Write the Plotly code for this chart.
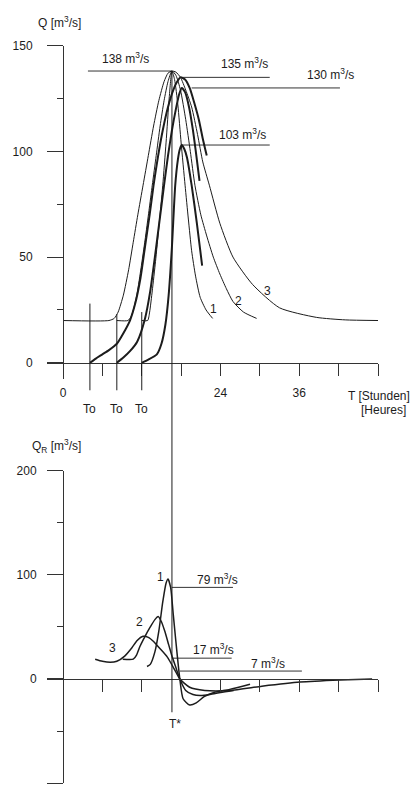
import plotly.graph_objects as go

# ---------------- data (hours, m3/s) ----------------
# inflow hydrographs (thin), base flow 20
h_in1 = [12.0, 12.9, 13.2, 13.6, 14.1, 14.6, 15.2, 15.7, 16.2, 16.6, 17.0, 17.5, 18.0, 18.6, 19.1, 19.6, 20.2, 20.9, 21.8, 22.8]
q_in1 = [20, 20, 24, 34, 48, 64, 84, 104, 126, 138, 134, 122, 104, 84, 68, 53, 41, 31, 25, 21]
h_in2 = [8.2, 9.9, 10.4, 10.8, 11.3, 11.9, 12.5, 13.1, 13.6, 14.2, 14.8, 15.4, 16.0, 16.6, 17.2, 17.9, 18.7, 19.4, 20.1, 21.0, 21.9, 22.9, 23.9, 24.9, 25.9, 27.5, 29.5]
q_in2 = [20, 20, 22, 26, 33, 45, 58, 72, 84, 98, 112, 124, 133, 138, 136, 129, 115, 100, 84, 70, 60, 50, 42, 35, 29, 24, 21]
h_in3 = [0, 7.0, 7.8, 8.4, 9.2, 10.0, 10.7, 11.4, 12.2, 13.0, 13.8, 14.6, 15.4, 16.0, 16.6, 17.2, 17.9, 18.7, 19.6, 20.5, 21.3, 22.3, 23.9, 25.9, 28.9, 33.0, 38.6, 43.0, 48.0]
q_in3 = [20, 20, 21, 24, 32, 44, 57, 70, 84, 98, 112, 124, 133, 137, 138, 137.5, 135, 129, 121, 108, 95, 84, 66, 50, 37, 26, 21.5, 20.3, 20]

# hydrographs starting at To (thick)
h_a = [4.1, 5.0, 6.0, 7.0, 8.2, 9.2, 10.2, 11.0, 11.8, 12.5, 13.2, 13.8, 14.5, 15.2, 16.0, 16.8, 17.4, 17.9, 18.6, 19.3, 20.0, 20.7, 21.3, 21.9]
q_a = [0, 2, 4, 6, 9, 14, 20, 28, 40, 55, 70, 84, 98, 110, 121, 129, 133, 135, 134, 130, 123, 115, 106, 98]
h_b = [8.2, 9.2, 10.2, 11.3, 12.5, 13.3, 14.0, 14.7, 15.4, 16.0, 16.6, 17.2, 17.7, 18.1, 18.6, 19.2, 19.8, 20.4, 20.8]
q_b = [0, 2.5, 5.5, 10, 21, 34, 50, 67, 84, 98, 110, 120, 127, 130, 128, 121, 110, 96, 86]
h_c = [12.0, 13.0, 14.3, 15.0, 15.6, 16.1, 16.6, 17.1, 17.5, 17.8, 18.1, 18.5, 18.9, 19.6, 20.4, 21.2]
q_c = [0, 1.5, 4, 9, 18, 32, 55, 84, 96, 101, 103, 101, 97, 84, 66, 46]

# peak marker lines (value, start h, end h, label)
peak_vals = [138, 135, 130, 103]
peak_h0 = [3.8, 18.1, 19.6, 18.1]
peak_h1 = [16.6, 31.5, 42.2, 31.5]
peak_lab_h = [9.45, 27.7, 40.7, 27.4]
peak_lab_q = [144, 141.6, 136.4, 108.3]

# start times To and lines
to_times = [4.1, 8.2, 12.0]
to_tops = [28, 23, 24]
t_star = 16.6

# differences Q_R (bottom chart)
h_r1 = [12.8, 13.3, 14.0, 14.6, 15.2, 15.7, 16.0, 16.4, 16.8, 17.2, 17.8, 18.3, 19.3, 20.3, 21.5, 23.0, 25.4, 28.5]
q_r1 = [12, 14, 26, 46, 74, 92, 96, 88, 62, 36, 0, -19, -25, -23, -17, -13, -10, -5]
h_r2 = [9.1, 10.7, 11.2, 11.7, 12.5, 13.3, 14.0, 14.5, 15.0, 15.5, 16.1, 16.6, 17.2, 17.8, 18.7, 19.8, 20.9, 22.4, 24.0, 26.0]
q_r2 = [19, 19, 23, 31, 41, 50, 57, 60, 55, 46, 33, 22, 11, 0, -11, -15, -16, -15, -13, -11]
h_r3 = [4.9, 6.0, 7.2, 8.2, 9.4, 10.5, 11.3, 12.2, 13.0, 13.8, 14.8, 15.9, 17.0, 17.8, 19.3, 21.6, 25.4, 30.3, 36.1, 42.2, 47.1]
q_r3 = [19, 17, 16, 17, 22, 30, 37, 41, 40, 36, 29, 21, 9, 0, -8, -11, -11, -7, -3, -1, 0]

r_vals = [88, 20, 7.6]
r_h0 = [16.6, 16.6, 17.8]
r_h1 = [25.9, 25.7, 36.4]
r_text = ["79 m<sup>3</sup>/s", "17 m<sup>3</sup>/s", "7 m<sup>3</sup>/s"]
r_lab_h = [23.5, 22.9, 31.2]
r_lab_q = [96, 28.6, 15.2]

x_ticks = [0, 6, 12, 18, 24, 30, 36, 42, 48]
x_ticktext = ["0", "", "", "", "24", "", "36", "", ""]
x_ticks_bottom = [6, 12, 24, 30, 36, 42, 48]
y_ticks_top = [0, 50, 100, 150]
y_minor_top = [25, 75, 125]
y_ticks_bot = [-100, 0, 100, 200]
y_minor_bot = [-50, 50, 150]

# ---------------- layout geometry ----------------
W, H = 412, 787
XR = [-2.44, 48.0]
YR_TOP = [-7.5, 150]
YR_BOT = [-100, 200]
XDOM = [47 / W, 378 / W]
YDOM_TOP = [1 - 375 / H, 1 - 39 / H]
YDOM_BOT = [1 - 783 / H, 1 - 468 / H]


def py_top(v):
    return YDOM_TOP[0] + (v - YR_TOP[0]) / (YR_TOP[1] - YR_TOP[0]) * (YDOM_TOP[1] - YDOM_TOP[0])


def py_bot(v):
    return YDOM_BOT[0] + (v - YR_BOT[0]) / (YR_BOT[1] - YR_BOT[0]) * (YDOM_BOT[1] - YDOM_BOT[0])


def px(h):
    return XDOM[0] + (h - XR[0]) / (XR[1] - XR[0]) * (XDOM[1] - XDOM[0])


INK = "#1c1c1c"
FONT = "Liberation Sans, Arial, sans-serif"

fig = go.Figure()


def line(x, y, w, xa="x", ya="y"):
    fig.add_trace(go.Scatter(x=x, y=y, mode="lines", xaxis=xa, yaxis=ya,
                             line=dict(color=INK, width=w, shape="spline", smoothing=0.6),
                             hoverinfo="skip", showlegend=False))


# base flow segment + inflows
for hh, qq in [(h_in3, q_in3), (h_in2, q_in2), (h_in1, q_in1)]:
    line(hh, qq, 1.0)
for hh, qq in [(h_a, q_a), (h_b, q_b), (h_c, q_c)]:
    line(hh, qq, 2.0)

# peak marker lines
for v, a, b in zip(peak_vals, peak_h0, peak_h1):
    fig.add_trace(go.Scatter(x=[a, b], y=[v, v], mode="lines", line=dict(color=INK, width=0.9),
                             hoverinfo="skip", showlegend=False))

# bottom curves
for hh, qq in [(h_r1, q_r1), (h_r2, q_r2), (h_r3, q_r3)]:
    line(hh, qq, 1.5, "x2", "y2")
for v, a, b in zip(r_vals, r_h0, r_h1):
    fig.add_trace(go.Scatter(x=[a, b], y=[v, v], mode="lines", xaxis="x2", yaxis="y2",
                             line=dict(color=INK, width=0.9), hoverinfo="skip", showlegend=False))

shapes = []
for t, top in zip(to_times, to_tops):
    shapes.append(dict(type="line", xref="x", yref="paper", x0=t, x1=t,
                       y0=py_top(-13), y1=py_top(top), line=dict(color=INK, width=1)))
shapes.append(dict(type="line", xref="x", yref="paper", x0=t_star, x1=t_star,
                   y0=py_bot(-32), y1=py_top(138), line=dict(color=INK, width=1)))

ann = []
tf = dict(family=FONT, size=12, color=INK)


def note(**kw):
    base = dict(showarrow=False, font=tf, xanchor="center", yanchor="middle")
    base.update(kw)
    ann.append(base)


for v, lh, lq in zip(peak_vals, peak_lab_h, peak_lab_q):
    note(x=lh, y=lq, xref="x", yref="y", text=f"{v} m<sup>3</sup>/s")
for t, lh, lq in zip(["1", "2", "3"], [22.9, 26.7, 31.1], [25.3, 29, 33.8]):
    note(x=lh, y=lq, xref="x", yref="y", text=t)
for t in to_times:
    note(x=t, y=1 - 406 / H, xref="x", yref="paper", text="To")
note(x=1.0, y=1 - 392 / H, xref="paper", yref="paper", text="T [Stunden]", xanchor="right")
note(x=383 / W, y=1 - 407 / H, xref="paper", yref="paper", text="[Heures]")
note(x=36 / W, y=1 - 15 / H, xref="paper", yref="paper", text="Q [m<sup>3</sup>/s]", xanchor="left")
note(x=30 / W, y=1 - 443 / H, xref="paper", yref="paper",
     text="Q<sub>R</sub> [m<sup>3</sup>/s]", xanchor="left")
note(x=t_star + 0.5, y=py_bot(-43), xref="x2", yref="paper", text="T*")
for t, lh, lq in zip(["1", "2", "3"], [14.8, 11.7, 7.5], [98, 55, 30]):
    note(x=lh, y=lq, xref="x2", yref="y2", text=t)
for t, lh, lq in zip(r_text, r_lab_h, r_lab_q):
    note(x=lh, y=lq, xref="x2", yref="y2", text=t)

axis_common = dict(showgrid=False, zeroline=False, showline=True, linecolor="#333",
                   linewidth=1, ticks="outside", tickcolor="#333", tickwidth=1,
                   tickfont=tf, fixedrange=True)

fig.update_layout(
    width=W, height=H, margin=dict(l=0, r=0, t=0, b=0),
    paper_bgcolor="white", plot_bgcolor="rgba(0,0,0,0)",
    showlegend=False, shapes=shapes, annotations=ann,
    xaxis=dict(domain=XDOM, range=XR, anchor="free", position=py_top(0),
               tickvals=x_ticks, ticktext=x_ticktext, ticklen=12, ticklabelstandoff=7,
               **axis_common),
    yaxis=dict(domain=YDOM_TOP, range=YR_TOP, anchor="free", position=px(0),
               tickvals=y_ticks_top, ticklen=16, ticklabelstandoff=12,
               minor=dict(tickvals=y_minor_top, ticklen=6, ticks="outside", tickcolor="#333"),
               **axis_common),
    xaxis2=dict(domain=XDOM, range=XR, anchor="free", position=py_bot(0),
                tickvals=x_ticks_bottom, ticklen=12, showticklabels=False,
                **axis_common),
    yaxis2=dict(domain=YDOM_BOT, range=YR_BOT, anchor="free", position=px(0),
                tickvals=y_ticks_bot, ticklen=16, ticklabelstandoff=8,
                minor=dict(tickvals=y_minor_bot, ticklen=6, ticks="outside", tickcolor="#333"),
                **axis_common),
)

fig.write_html("out.html", config={"displayModeBar": False},
               post_script="document.body.style.margin='0px';document.body.style.overflow='hidden';")
